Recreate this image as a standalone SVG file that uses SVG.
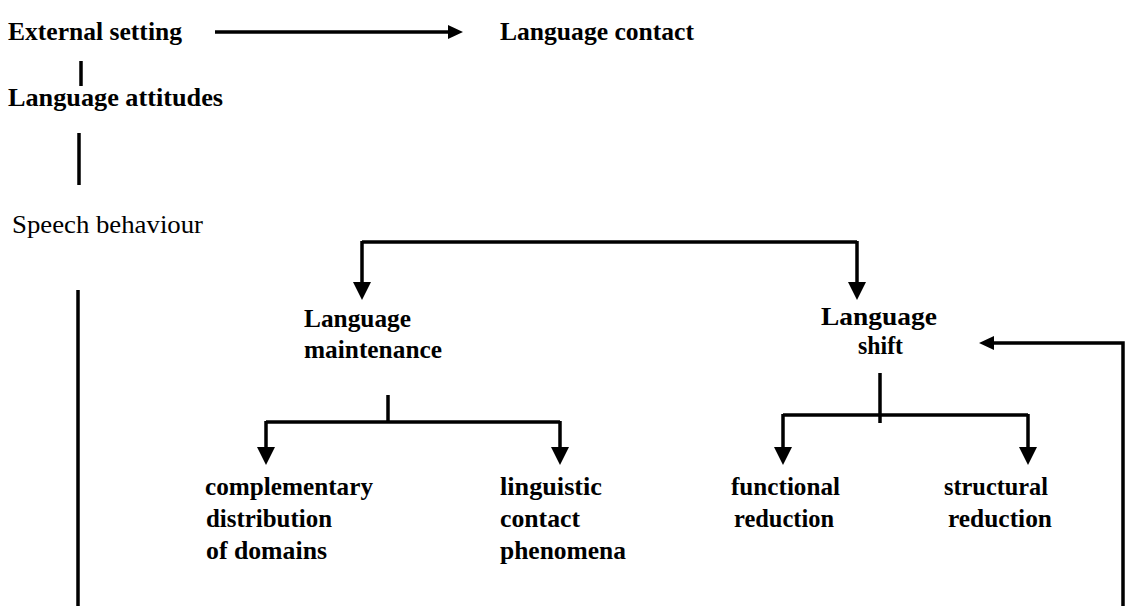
<svg xmlns="http://www.w3.org/2000/svg" width="1126" height="608" viewBox="0 0 1126 608">
  <style>
    text { font-family: "Liberation Serif", "Times New Roman", serif; font-size: 25px; font-weight: bold; fill: #000; }
    text.plain { font-weight: normal; font-size: 26px; }
    .line { stroke: #000; stroke-width: 3.5; fill: none; }
  </style>
  <defs>
    <!-- filled triangular head, drawn beyond the end of the line -->
    <marker id="head" viewBox="0 0 18 18" markerWidth="18" markerHeight="18" refX="0" refY="9" orient="auto" markerUnits="userSpaceOnUse">
      <path d="M0,0 L18,9 L0,18 z" fill="#000"/>
    </marker>
    <marker id="headSmall" viewBox="0 0 15 14" markerWidth="15" markerHeight="14" refX="0" refY="7" orient="auto" markerUnits="userSpaceOnUse">
      <path d="M0,0 L15,7 L0,14 z" fill="#000"/>
    </marker>
  </defs>
  <rect width="1126" height="608" fill="#fff"/>

  <g id="connectors">
    <!-- external setting to language contact -->
    <path class="line" d="M215,32 H448" marker-end="url(#headSmall)"/>
    <!-- left spine -->
    <path class="line" d="M81,61 V86"/>
    <path class="line" d="M79,133 V185"/>
    <path class="line" d="M78,290 V606"/>
    <!-- speech behaviour split -->
    <path class="line" d="M362,242 H857"/>
    <path class="line" d="M362,241 V282" marker-end="url(#head)"/>
    <path class="line" d="M857,241 V282" marker-end="url(#head)"/>
    <!-- maintenance split -->
    <path class="line" d="M388,395 V422"/>
    <path class="line" d="M266,422 H560"/>
    <path class="line" d="M266,421 V447" marker-end="url(#head)"/>
    <path class="line" d="M560,421 V447" marker-end="url(#head)"/>
    <!-- shift split -->
    <path class="line" d="M880,373 V423"/>
    <path class="line" d="M783,415 H1028"/>
    <path class="line" d="M783,414 V447" marker-end="url(#head)"/>
    <path class="line" d="M1028,414 V447" marker-end="url(#head)"/>
    <!-- feedback into language shift -->
    <path class="line" d="M1123,606 V343 H994" marker-end="url(#headSmall)"/>
  </g>

  <g id="external-setting"><text x="8" y="40" textLength="174" lengthAdjust="spacingAndGlyphs">External setting</text></g>
  <g id="language-contact"><text x="500" y="40" textLength="194" lengthAdjust="spacingAndGlyphs">Language contact</text></g>
  <g id="language-attitudes"><text x="8" y="106" textLength="215" lengthAdjust="spacingAndGlyphs">Language attitudes</text></g>
  <g id="speech-behaviour"><text class="plain" x="12" y="233" textLength="191" lengthAdjust="spacingAndGlyphs">Speech behaviour</text></g>

  <g id="language-maintenance">
    <text x="304" y="327" textLength="107" lengthAdjust="spacingAndGlyphs">Language</text>
    <text x="304" y="358" textLength="138" lengthAdjust="spacingAndGlyphs">maintenance</text>
  </g>
  <g id="language-shift">
    <text x="821" y="325" textLength="116" lengthAdjust="spacingAndGlyphs">Language</text>
    <text x="858" y="354" textLength="45" lengthAdjust="spacingAndGlyphs">shift</text>
  </g>

  <g id="complementary-distribution">
    <text x="205" y="495" textLength="168" lengthAdjust="spacingAndGlyphs">complementary</text>
    <text x="206" y="527" textLength="126" lengthAdjust="spacingAndGlyphs">distribution</text>
    <text x="206" y="559" textLength="121" lengthAdjust="spacingAndGlyphs">of domains</text>
  </g>
  <g id="linguistic-contact">
    <text x="500" y="495" textLength="102" lengthAdjust="spacingAndGlyphs">linguistic</text>
    <text x="500" y="527" textLength="80" lengthAdjust="spacingAndGlyphs">contact</text>
    <text x="500" y="559" textLength="126" lengthAdjust="spacingAndGlyphs">phenomena</text>
  </g>
  <g id="functional-reduction">
    <text x="731" y="495" textLength="109" lengthAdjust="spacingAndGlyphs">functional</text>
    <text x="734" y="527" textLength="100" lengthAdjust="spacingAndGlyphs">reduction</text>
  </g>
  <g id="structural-reduction">
    <text x="944" y="495" textLength="104" lengthAdjust="spacingAndGlyphs">structural</text>
    <text x="948" y="527" textLength="104" lengthAdjust="spacingAndGlyphs">reduction</text>
  </g>
</svg>
